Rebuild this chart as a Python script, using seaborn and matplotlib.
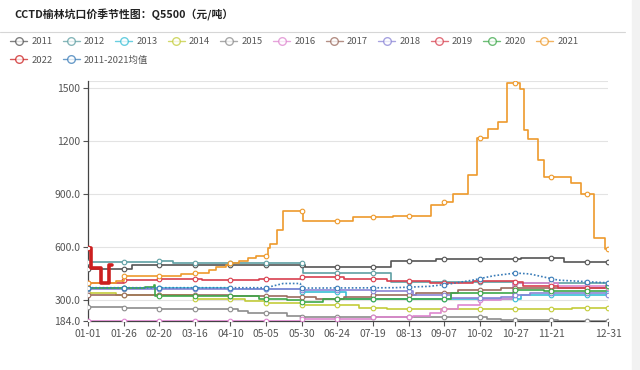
import numpy as np
import pandas as pd
import seaborn as sns
import matplotlib

matplotlib.use("Agg")
import matplotlib.pyplot as plt
from matplotlib.lines import Line2D
from matplotlib.patches import Rectangle

# day-of-year (leap-year calendar, 0 = 01-01) -> price, step changes only
S2011 = [(0, 475), (31, 498), (152, 487), (213, 521), (244, 532), (304, 538), (334, 515)]
S2012 = [(0, 515), (50, 521), (60, 509), (151, 458), (213, 402), (300, 396), (364, 390)]
S2013 = [(0, 370), (100, 362), (150, 348), (181, 311), (304, 330), (364, 340)]
S2014 = [(0, 340), (20, 330), (75, 310), (110, 295), (125, 283), (150, 272), (190, 258),
         (210, 249), (300, 252), (340, 258)]
S2015 = [(0, 262), (25, 255), (50, 249), (105, 240), (112, 232), (140, 215), (150, 207),
         (270, 204), (280, 198), (290, 187), (330, 184)]
S2016 = [(0, 184), (120, 186), (150, 195), (200, 204), (228, 215), (240, 232), (248, 254),
         (260, 272), (275, 300), (290, 310), (298, 400), (330, 380), (364, 372)]
S2017 = [(0, 330), (50, 330), (100, 325), (140, 318), (160, 310), (180, 318), (200, 330),
         (230, 345), (260, 360), (290, 370), (320, 372), (364, 380)]
S2018 = [(0, 365), (150, 360), (200, 355), (228, 330), (255, 315), (290, 318), (300, 330),
         (310, 340), (364, 330)]
S2019 = [(0, 396), (25, 413), (50, 424), (80, 418), (100, 413), (120, 420), (150, 430),
         (180, 420), (210, 408), (240, 398), (270, 408), (300, 405), (305, 380), (330, 370),
         (364, 385)]
S2020 = [(0, 370), (40, 375), (46, 390), (47, 328), (100, 328), (120, 311), (140, 300),
         (150, 289), (165, 311), (240, 311), (255, 340), (275, 345), (300, 357), (320, 352),
         (364, 380)]
S2021 = [(0, 396), (20, 410), (25, 436), (55, 440), (65, 450), (75, 455), (85, 470),
         (90, 487), (97, 498), (100, 510), (106, 521), (112, 540), (118, 549), (126, 594),
         (128, 617), (133, 696), (137, 804), (151, 747), (186, 770), (214, 775), (241, 838),
         (250, 855), (256, 900), (267, 1007), (273, 1217), (281, 1268), (288, 1307),
         (294, 1528), (303, 1494), (306, 1262), (309, 1211), (316, 1092), (320, 996),
         (339, 962), (346, 900), (355, 651), (363, 589)]
S2022 = [(0, 594), (2, 481), (8, 481), (9, 396), (14, 396), (15, 498), (17, 498)]
AVG = [(0, 372), (125, 372), (137, 396), (149, 396), (150, 370), (215, 372), (240, 380),
       (255, 395), (270, 415), (285, 440), (300, 455), (310, 450), (330, 415), (364, 400)]

LABELS = ["2011", "2012", "2013", "2014", "2015", "2016", "2017", "2018", "2019", "2020",
          "2021", "2022", "2011-2021均值"]
COLORS = ["#555555", "#5f9fa3", "#38bfd6", "#c3cc3a", "#8c8c8c", "#de86cf", "#9b6b5e",
          "#8a84d6", "#d8404f", "#3da84a", "#ee9a2c", "#cc1f1f", "#3a7cb8"]
SERIES = [S2011, S2012, S2013, S2014, S2015, S2016, S2017, S2018, S2019, S2020, S2021,
          S2022, AVG]

Y_TICKS = [184, 300, 600, 900, 1200, 1500]
Y_TICK_LABELS = ["184.0", "300.0", "600.0", "900.0", "1200", "1500"]
TICK_DAYS = [0, 25, 50, 75, 100, 125, 150, 175, 200, 225, 250, 275, 300, 325, 365]
MARK_DAYS = [0, 25, 50, 75, 100, 125, 150, 175, 200, 225, 250, 275, 300, 325, 350, 365]

dates = pd.date_range("2020-01-01", "2020-12-31")
x_labels = [dates[d].strftime("%m-%d") for d in TICK_DAYS]


def value_at(points, day):
    days = [p[0] for p in points]
    idx = np.searchsorted(days, day, side="right") - 1
    return points[idx][1]


sns.set_theme(style="white")
plt.rcParams["font.family"] = ["Noto Sans CJK SC", "DejaVu Sans"]

fig = plt.figure(figsize=(6.4, 3.7), dpi=100)
fig.patch.set_facecolor("white")
ax = fig.add_axes([88 / 640, 1 - 321 / 370, 520 / 640, 240 / 370])

for label, color, points in zip(LABELS, COLORS, SERIES):
    is_avg = label.endswith("均值")
    is_2022 = label == "2022"
    end_day = points[-1][0] if is_2022 else 365
    days = [p[0] for p in points]
    vals = [p[1] for p in points]
    if days[-1] < end_day:
        days.append(end_day)
        vals.append(vals[-1])
    z = 5 if is_2022 else (4 if label == "2021" else 3)
    sns.lineplot(
        x=days, y=vals, ax=ax, color=color, estimator=None, sort=False,
        drawstyle="default" if is_avg else "steps-post",
        linewidth=2.6 if is_2022 else 1.2,
        linestyle=(0, (1, 1.2)) if is_avg else "-",
        zorder=z,
    )
    md = [d for d in MARK_DAYS if d <= end_day]
    if is_2022:
        md = [0]
    if is_avg:
        mv = [float(np.interp(d, [p[0] for p in points], [p[1] for p in points])) for d in md]
    else:
        mv = [value_at(points, d) for d in md]
    sns.scatterplot(x=md, y=mv, ax=ax, s=11, color="white", edgecolor=color,
                    linewidth=0.8, zorder=z + 0.5, legend=False)

ax.set_xlim(0, 365)
ax.set_ylim(184, 1540)
ax.set_xticks(TICK_DAYS)
ax.set_xticklabels(x_labels)
ax.set_yticks(Y_TICKS)
ax.set_yticklabels(Y_TICK_LABELS)
ax.tick_params(axis="both", labelsize=7.5, colors="#555555", length=3.5, width=0.8,
               direction="out", bottom=True, left=True, pad=2)
ax.set_xlabel("")
ax.set_ylabel("")
for y in Y_TICKS[1:] + [1540]:
    ax.axhline(y, color="#e3e3e3", linewidth=0.8, zorder=0)
ax.spines["right"].set_visible(False)
ax.spines["top"].set_visible(False)
for side in ["left", "bottom"]:
    ax.spines[side].set_color("#444444")
    ax.spines[side].set_linewidth(0.9)

fig.text(14 / 640, 1 - 15 / 370, "CCTD榆林坑口价季节性图：Q5500（元/吨）",
         fontsize=7.8, fontweight="bold", color="#222222", va="center")
fig.add_artist(Line2D([0, 625 / 640], [1 - 32 / 370] * 2, color="#d6d6d6", lw=0.8))
fig.patches.append(Rectangle((632 / 640, 0), 8 / 640, 1, transform=fig.transFigure,
                             color="#f2f2f2", zorder=-1))

handles = [Line2D([0], [0], color=c, lw=1, marker="o", markersize=5.5,
                  markerfacecolor="white", markeredgecolor=c, alpha=0.75)
           for c in COLORS]
leg_kw = dict(frameon=False, fontsize=6.8, handlelength=1.8, handletextpad=0.45,
              columnspacing=1.08, borderaxespad=0, borderpad=0, loc="center left",
              labelcolor="#555555")
fig.legend(handles[:11], LABELS[:11], ncol=11,
           bbox_to_anchor=(10 / 640, 1 - 42 / 370), **leg_kw)
fig.legend(handles[11:], LABELS[11:], ncol=2,
           bbox_to_anchor=(10 / 640, 1 - 60 / 370), **leg_kw)

fig.savefig("out.png", dpi=100)
